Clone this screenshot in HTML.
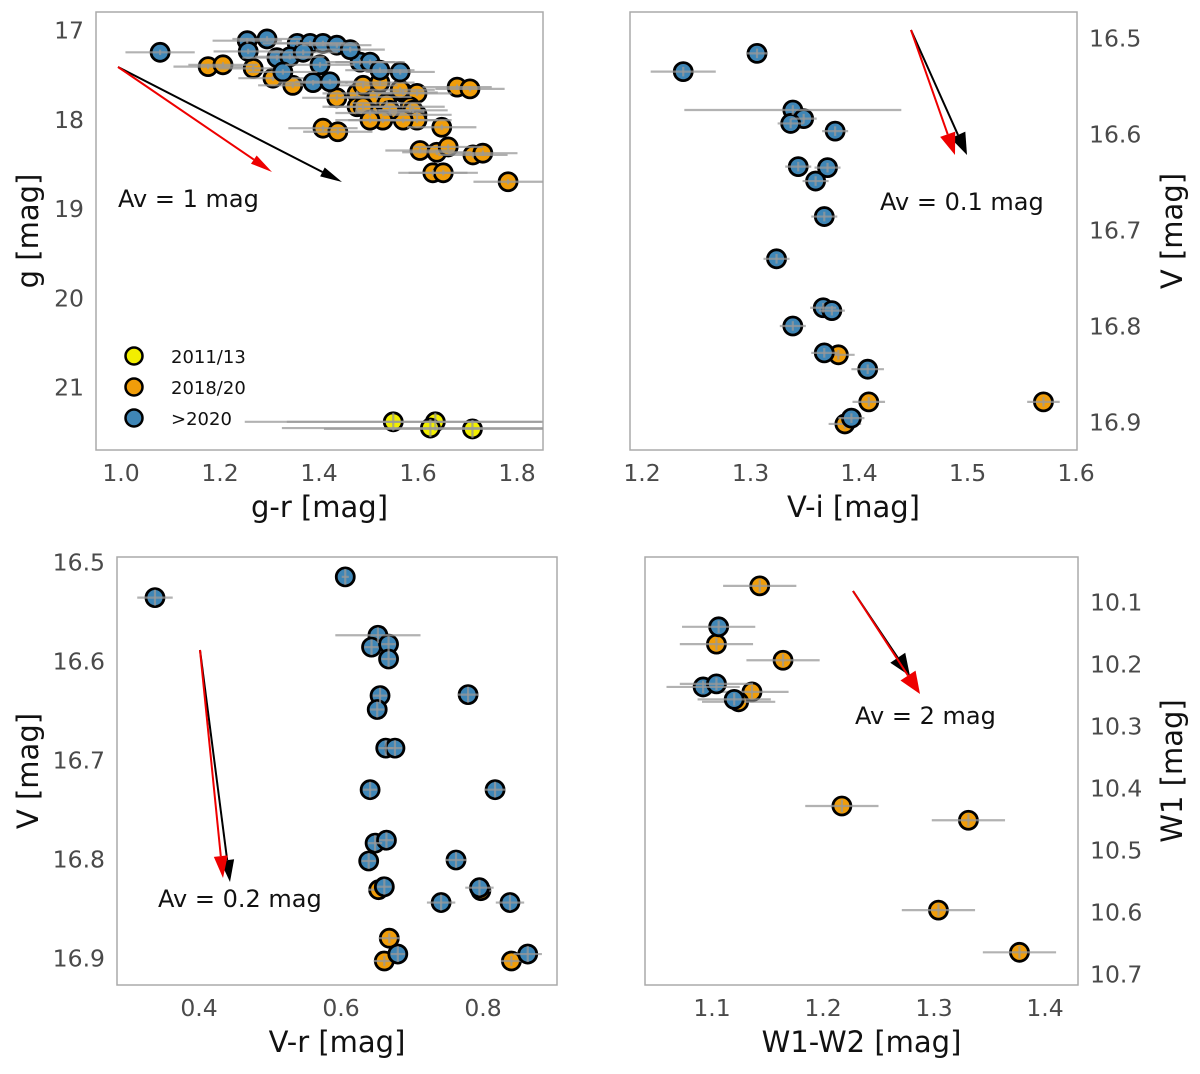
<!DOCTYPE html>
<html><head><meta charset="utf-8"><style>
html,body{margin:0;padding:0;background:#fff}
svg text{font-family:"DejaVu Sans","Liberation Sans",sans-serif}
</style></head><body>
<svg id="fig" width="1200" height="1069" xmlns="http://www.w3.org/2000/svg"></svg>
<script>
// ---------- Panel 1 data (g-r vs g) ----------
const p1BlueX=[1.079,1.255,1.295,1.257,1.356,1.382,1.408,1.436,1.315,1.341,1.327,1.388,1.483,1.503,1.564,1.422,1.368,1.463,1.402,1.523];
const p1BlueY=[17.25,17.12,17.10,17.24,17.15,17.15,17.15,17.17,17.31,17.30,17.47,17.59,17.36,17.36,17.47,17.58,17.25,17.22,17.39,17.45];
const p1OrangeX=[1.176,1.206,1.267,1.307,1.347,1.436,1.477,1.517,1.537,1.570,1.598,1.477,1.503,1.543,1.584,1.598,1.489,1.523,1.679,1.705,1.604,1.638,1.661,1.711,1.731,1.648,1.630,1.651,1.782,1.590,1.598,1.570,1.543,1.564,1.529,1.489,1.503,1.408,1.438];
const p1OrangeY=[17.41,17.39,17.43,17.54,17.62,17.76,17.71,17.75,17.82,17.70,17.71,17.86,17.93,17.92,17.86,17.95,17.62,17.59,17.64,17.66,18.35,18.37,18.31,18.40,18.38,18.09,18.60,18.60,18.70,17.90,18.01,18.01,17.90,17.67,18.01,17.86,18.01,18.10,18.14];
const p1YellowX=[1.55,1.635,1.625,1.71];
const p1YellowY=[21.39,21.39,21.46,21.47];
const p1XTicks=[1.0,1.2,1.4,1.6,1.8];
const p1YTicks=[17,18,19,20,21];
// ---------- Panel 2 data (V-i vs V) ----------
const p2BlueX=[1.238,1.306,1.339,1.349,1.337,1.378,1.344,1.371,1.360,1.368,1.324,1.367,1.375,1.339,1.368,1.408,1.393];
const p2BlueY=[16.535,16.516,16.575,16.584,16.589,16.597,16.634,16.635,16.649,16.686,16.730,16.781,16.784,16.800,16.828,16.845,16.896];
const p2BlueErr=[0.03,0.01,0.1,0.012,0.012,0.012,0.012,0.012,0.012,0.012,0.012,0.012,0.012,0.012,0.012,0.015,0.012];
const p2OrangeX=[1.381,1.409,1.570,1.387];
const p2OrangeY=[16.830,16.879,16.879,16.902];
const p2XTicks=[1.2,1.3,1.4,1.5,1.6];
const p2YTicks=[16.5,16.6,16.7,16.8,16.9];
// ---------- Panel 3 data (V-r vs V) ----------
const p3BlueX=[0.338,0.606,0.652,0.643,0.667,0.667,0.655,0.651,0.663,0.676,0.641,0.779,0.817,0.648,0.664,0.639,0.762,0.661,0.795,0.741,0.838,0.680,0.863];
const p3BlueY=[16.536,16.515,16.574,16.586,16.583,16.598,16.635,16.649,16.688,16.688,16.730,16.634,16.730,16.784,16.781,16.802,16.801,16.828,16.829,16.844,16.844,16.896,16.896];
const p3BlueErr=[0.025,0.005,0.06,0.01,0.01,0.01,0.01,0.01,0.01,0.01,0.01,0.015,0.015,0.01,0.01,0.01,0.015,0.01,0.02,0.02,0.02,0.01,0.02];
const p3OrangeX=[0.653,0.797,0.668,0.661,0.840];
const p3OrangeY=[16.831,16.832,16.880,16.903,16.903];
const p3XTicks=[0.4,0.6,0.8];
const p3YTicks=[16.5,16.6,16.7,16.8,16.9];
// ---------- Panel 4 data (W1-W2 vs W1) ----------
const p4OrangeX=[1.143,1.104,1.164,1.136,1.124,1.217,1.331,1.304,1.377];
const p4OrangeY=[10.074,10.168,10.194,10.245,10.261,10.429,10.452,10.597,10.665];
const p4BlueX=[1.106,1.092,1.104,1.120];
const p4BlueY=[10.140,10.237,10.232,10.257];
const p4XTicks=[1.1,1.2,1.3,1.4];
const p4YTicks=[10.1,10.2,10.3,10.4,10.5,10.6,10.7];

const NS="http://www.w3.org/2000/svg";
const svg=document.getElementById('fig');
const COL={blue:'#3f86b6',orange:'#f09d0a',yellow:'#f2ee00'};
function mk(tag,attrs,parent){const e=document.createElementNS(NS,tag);for(const k in attrs)e.setAttribute(k,attrs[k]);(parent||svg).appendChild(e);return e;}
function lin(d0,d1,p0,p1){return v=>p0+(v-d0)*(p1-p0)/(d1-d0);}

function panel(name,box,sx,sy,xt,yt,xdec,ydec,yRight,xlab,ylab){
  const g=mk('g',{});
  
  
  const fr=mk('rect',{x:box[0],y:box[1],width:box[2]-box[0],height:box[3]-box[1],fill:'none',stroke:'#aaa','stroke-width':1.5},g);
  
  
  xt.forEach(v=>{const t=mk('text',{x:sx(v),y:box[3]+31,'text-anchor':'middle','font-size':23.5,fill:'#4a4a4a'},g);t.textContent=v.toFixed(xdec);
    
    });
  yt.forEach(v=>{const t=mk('text',{x:yRight?box[2]+12:box[0]-12,y:sy(v)+8.5,'text-anchor':yRight?'start':'end','font-size':23.5,fill:'#4a4a4a'},g);t.textContent=v.toFixed(ydec);
    
    });
  const xl=mk('text',{x:(box[0]+box[2])/2,y:box[3]+67,'text-anchor':'middle','font-size':29,fill:'#111'},g);xl.textContent=xlab;
  
  
  const yx=yRight?1182:38, yy=(box[1]+box[3])/2;
  const yl=mk('text',{x:yx,y:yy,'text-anchor':'middle','font-size':29,fill:'#111',transform:`rotate(-90 ${yx} ${yy})`},g);yl.textContent=ylab;
  
  
  return g;
}
function series(g,name,xs,ys,col,sx,sy,ex,ey,box){
  const gg=mk('g',{},g);
  
  
  xs.forEach((x,i)=>{const c=mk('circle',{cx:sx(x),cy:sy(ys[i]),r:9,fill:col,stroke:'#000','stroke-width':2.8},gg);
    
    });
  xs.forEach((x,i)=>{const e=Array.isArray(ex)?ex[i]:ex;
    const x0=Math.max(box[0],sx(x-e)),x1=Math.min(box[2],sx(x+e));
    const l=mk('line',{x1:x0,x2:x1,y1:sy(ys[i]),y2:sy(ys[i]),stroke:'#999','stroke-width':2.2,opacity:0.75},gg);
    
    
    const v=mk('line',{x1:sx(x),x2:sx(x),y1:sy(ys[i]-ey),y2:sy(ys[i]+ey),stroke:'#999','stroke-width':2.2,opacity:0.75},gg);
    
    });
}
function arrow(g,name,x0,y0,x1,y1,col,w){
  const a=mk('g',{},g);
  
  
  const dx=x1-x0,dy=y1-y0,L=Math.hypot(dx,dy),ux=dx/L,uy=dy/L,hl=22,hw=w;
  const bx=x1-ux*hl,by=y1-uy*hl;
  mk('line',{x1:x0,y1:y0,x2:bx,y2:by,stroke:col,'stroke-width':2},a);
  mk('polygon',{points:`${x1},${y1} ${bx-uy*hw},${by+ux*hw} ${bx+uy*hw},${by-ux*hw}`,fill:col},a);
}
function label(g,name,x,y,txt){const t=mk('text',{x:x,y:y,'font-size':24,fill:'#111'},g);t.textContent=txt;
  
  }

// Panel 1
{const box=[96,12,543,450];const sx=lin(1,1.8,121,517),sy=lin(17,21,30,387);
 const g=panel('panel-g-vs-gr',box,sx,sy,p1XTicks,p1YTicks,1,0,false,'g-r [mag]','g [mag]');
 series(g,'series-2011-13',p1YellowX,p1YellowY,COL.yellow,sx,sy,0.3,0.1,box);
 series(g,'series-2018-20',p1OrangeX,p1OrangeY,COL.orange,sx,sy,0.07,0.03,box);
 series(g,'series-after-2020',p1BlueX,p1BlueY,COL.blue,sx,sy,0.07,0.03,box);
 arrow(g,'extinction-arrow-black',118,67,342,182,'#000',5);
 arrow(g,'extinction-arrow-red',118,67,272,172,'#e00',5);
 label(g,'av-label',118,207,'Av = 1 mag');
 const leg=[['2011/13',COL.yellow],['2018/20',COL.orange],['>2020',COL.blue]];
 leg.forEach((L,i)=>{const y=356+i*31;
   const c=mk('circle',{cx:134,cy:y,r:8.5,fill:L[1],stroke:'#000','stroke-width':2.5},g);
   
   
   const t=mk('text',{x:171,y:y+7,'font-size':18,fill:'#111'},g);t.textContent=L[0];
   
   });
}
// Panel 2
{const box=[630,12,1077,450];const sx=lin(1.2,1.6,642,1076),sy=lin(16.5,16.9,38,422);
 const g=panel('panel-V-vs-Vi',box,sx,sy,p2XTicks,p2YTicks,1,1,true,'V-i [mag]','V [mag]');
 series(g,'series-2018-20',p2OrangeX,p2OrangeY,COL.orange,sx,sy,0.015,0.005,box);
 series(g,'series-after-2020',p2BlueX,p2BlueY,COL.blue,sx,sy,p2BlueErr,0.005,box);
 arrow(g,'extinction-arrow-black',911,30,967,155,'#000',8);
 arrow(g,'extinction-arrow-red',911,30,955,155,'#e00',8);
 label(g,'av-label',880,210,'Av = 0.1 mag');
}
// Panel 3
{const box=[117,557,557,985];const sx=lin(0.4,0.8,199,483),sy=lin(16.5,16.9,562,958);
 const g=panel('panel-V-vs-Vr',box,sx,sy,p3XTicks,p3YTicks,1,1,false,'V-r [mag]','V [mag]');
 series(g,'series-2018-20',p3OrangeX,p3OrangeY,COL.orange,sx,sy,0.015,0.005,box);
 series(g,'series-after-2020',p3BlueX,p3BlueY,COL.blue,sx,sy,p3BlueErr,0.008,box);
 arrow(g,'extinction-arrow-black',200,650,230,882,'#000',7);
 arrow(g,'extinction-arrow-red',200,650,223,878,'#e00',7);
 label(g,'av-label',158,907,'Av = 0.2 mag');
}
// Panel 4
{const box=[645,557,1078,985];const sx=lin(1.1,1.4,712,1045),sy=lin(10.1,10.7,602,974);
 const g=panel('panel-W1-vs-W1W2',box,sx,sy,p4XTicks,p4YTicks,1,1,true,'W1-W2 [mag]','W1 [mag]');
 series(g,'series-2018-20',p4OrangeX,p4OrangeY,COL.orange,sx,sy,0.033,0.01,box);
 series(g,'series-after-2020',p4BlueX,p4BlueY,COL.blue,sx,sy,0.033,0.01,box);
 arrow(g,'extinction-arrow-black',853,591,910,676,'#000',9);
 arrow(g,'extinction-arrow-red',853,591,920,694,'#e00',9);
 label(g,'av-label',855,724,'Av = 2 mag');
}
</script>
</body></html>
